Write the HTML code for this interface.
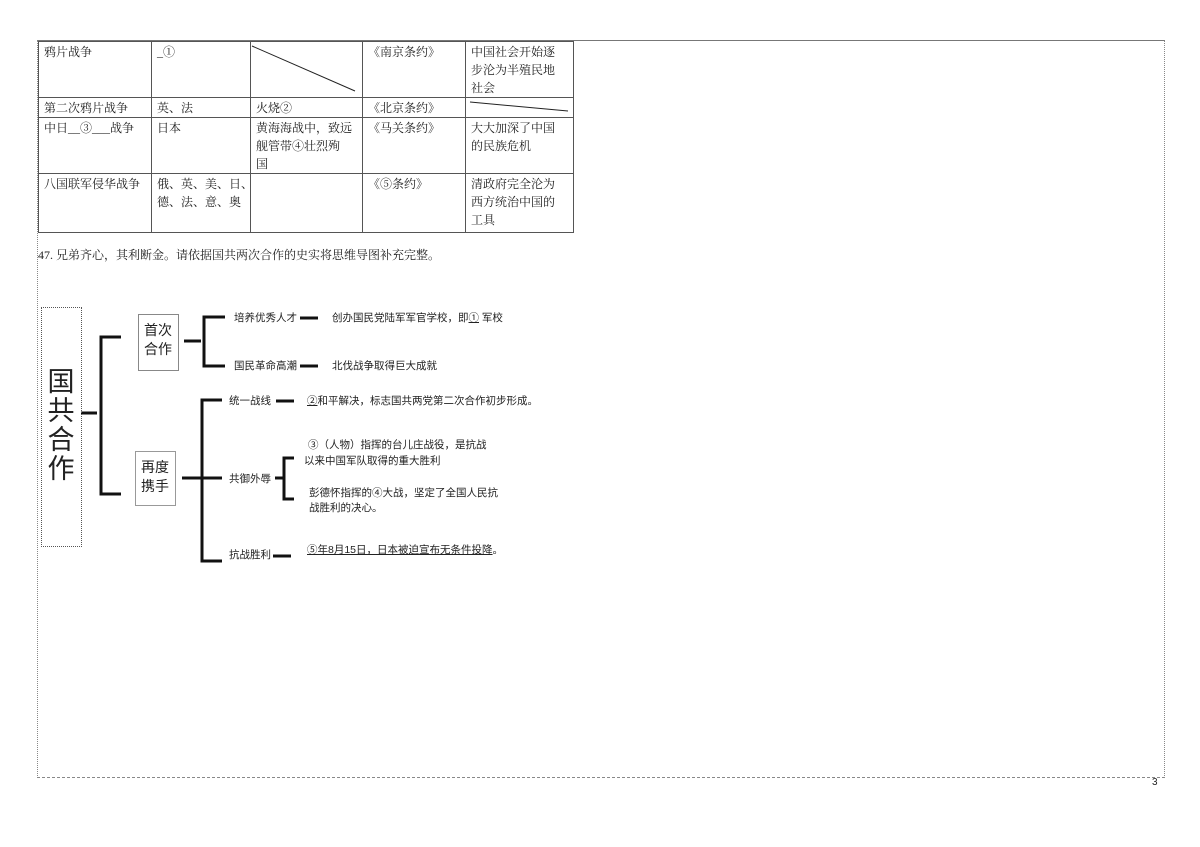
<!DOCTYPE html>
<html><head><meta charset="utf-8">
<style>
html,body{margin:0;padding:0;background:#fff;}
body{width:1200px;height:847px;position:relative;overflow:hidden;font-family:"Liberation Serif","Noto Serif CJK SC","Noto Sans CJK SC",serif;color:#222;}
.a{position:absolute;white-space:nowrap;}
table{position:absolute;left:38px;top:41px;border-collapse:collapse;font-size:12px;table-layout:fixed;width:535px;}
td{border:1px solid #555;vertical-align:top;padding:1px 5px 0 5px;line-height:18px;box-sizing:border-box;white-space:nowrap;overflow:hidden;}
.m{font-family:"Liberation Sans","Noto Sans CJK SC",sans-serif;font-size:10.5px;color:#222;}
</style></head><body>
<div class="a" style="left:37px;top:40px;width:1126px;height:736px;border:1px solid #777;border-left:1px dotted #888;border-right:1px dotted #888;border-bottom:1px dashed #888;"></div>
<div class="a" style="left:1152px;top:777px;font-size:10px;font-family:'Liberation Sans',sans-serif;">3</div>

<table>
<colgroup><col style="width:113px"><col style="width:99px"><col style="width:112px"><col style="width:103px"><col style="width:108px"></colgroup>
<tr style="height:55px"><td style="height:55px">鸦片战争</td><td>_①</td><td></td><td>《南京条约》</td><td>中国社会开始逐<br>步沦为半殖民地<br>社会</td></tr>
<tr style="height:20px"><td style="height:20px">第二次鸦片战争</td><td>英、法</td><td>火烧②</td><td>《北京条约》</td><td></td></tr>
<tr style="height:55px"><td style="height:55px">中日__③___战争</td><td>日本</td><td>黄海海战中，致远<br>舰管带④壮烈殉<br>国</td><td>《马关条约》</td><td>大大加深了中国<br>的民族危机</td></tr>
<tr style="height:59px"><td style="height:59px">八国联军侵华战争</td><td>俄、英、美、日、<br>德、法、意、奥</td><td></td><td>《⑤条约》</td><td>清政府完全沦为<br>西方统治中国的<br>工具</td></tr>
</table>
<svg class="a" style="left:0;top:0" width="1200" height="847">
<line x1="252" y1="46" x2="355" y2="91" stroke="#222" stroke-width="1"/>
<line x1="470" y1="102" x2="568" y2="111" stroke="#222" stroke-width="1"/>
<g stroke="#111" stroke-width="3" fill="none">
<line x1="81" y1="413" x2="97" y2="413"/>
<polyline points="121,337 101,337 101,494 121,494"/>
<line x1="184" y1="341" x2="201" y2="341"/>
<polyline points="225,317 204,317 204,366 225,366"/>
<line x1="300" y1="318" x2="318" y2="318"/>
<line x1="300" y1="366" x2="318" y2="366"/>
<line x1="182" y1="478" x2="222" y2="478"/>
<polyline points="222,400 202,400 202,561 222,561"/>
<line x1="276" y1="401" x2="294" y2="401"/>
<line x1="275" y1="478" x2="284" y2="478"/>
<polyline points="294,458 284,458 284,499 294,499"/>
<line x1="273" y1="556" x2="291" y2="556"/>
</g>
</svg>
<div class="a" style="left:38px;top:246px;font-size:12px;">47. 兄弟齐心，其利断金。请依据国共两次合作的史实将思维导图补充完整。</div>

<div class="a" style="left:41px;top:307px;width:39px;height:238px;border:1px dotted #555;"></div>
<div class="a m" style="left:41px;top:368px;width:40px;text-align:center;font-size:27px;line-height:29px;white-space:normal;">国<br>共<br>合<br>作</div>
<div class="a" style="left:138px;top:314px;width:39px;height:55px;border:1px solid #888;"></div>
<div class="a m" style="left:138px;top:321px;width:40px;text-align:center;font-size:14px;line-height:19px;">首次<br>合作</div>
<div class="a" style="left:135px;top:451px;width:39px;height:53px;border:1px solid #999;"></div>
<div class="a m" style="left:135px;top:458px;width:40px;text-align:center;font-size:14px;line-height:19px;">再度<br>携手</div>

<div class="a m" style="left:234px;top:310px;">培养优秀人才</div>
<div class="a m" style="left:332px;top:310px;">创办国民党陆军军官学校，即<u>①</u> 军校</div>
<div class="a m" style="left:234px;top:358px;">国民革命高潮</div>
<div class="a m" style="left:332px;top:358px;">北伐战争取得巨大成就</div>
<div class="a m" style="left:229px;top:393px;">统一战线</div>
<div class="a m" style="left:307px;top:393px;"><u>②</u>和平解决，标志国共两党第二次合作初步形成。</div>
<div class="a m" style="left:229px;top:471px;">共御外辱</div>
<div class="a m" style="left:308px;top:437px;">③（人物）指挥的台儿庄战役，是抗战</div>
<div class="a m" style="left:304px;top:453px;">以来中国军队取得的重大胜利</div>
<div class="a m" style="left:309px;top:485px;">彭德怀指挥的④大战，坚定了全国人民抗</div>
<div class="a m" style="left:309px;top:500px;">战胜利的决心。</div>
<div class="a m" style="left:229px;top:547px;">抗战胜利</div>
<div class="a m" style="left:307px;top:542px;"><u>⑤年8月15日，日本被迫宣布无条件投降</u>。</div>
</body></html>
